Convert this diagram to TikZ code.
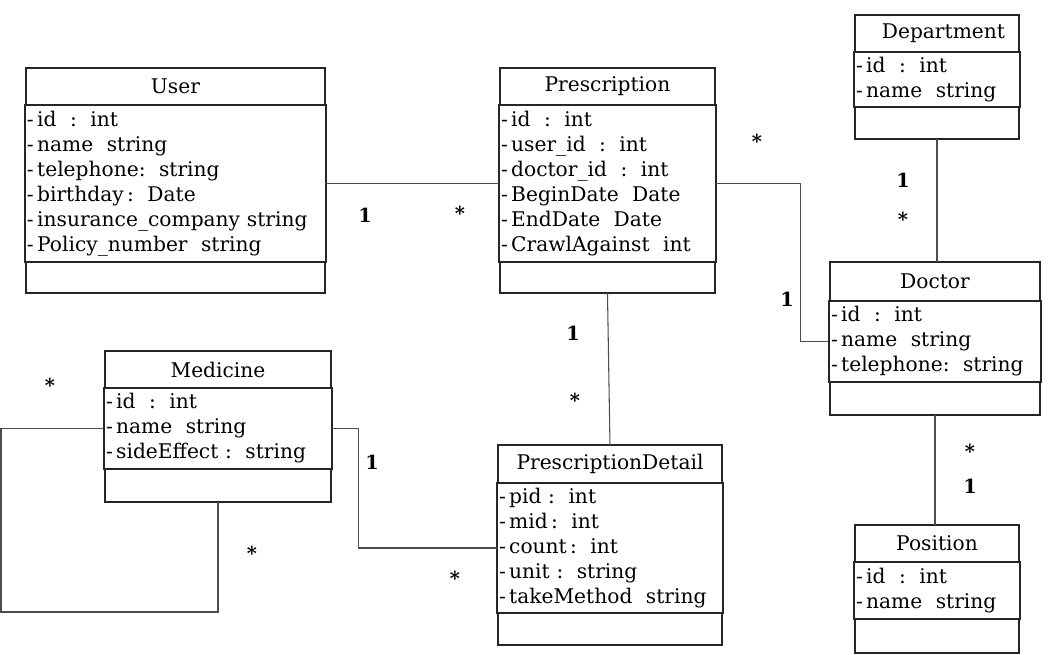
\documentclass[tikz,border=0pt]{standalone}
\usepackage{fontspec}
\setmainfont{DejaVu Serif}
\usepackage{tikz}
\usetikzlibrary{positioning}

\begin{document}
\begin{tikzpicture}[x=0.02cm, y=-0.02cm,
  every node/.style={font=\fontsize{11.5}{14.2}\selectfont},
  box/.style={draw=black!85, line width=1pt, rectangle, inner xsep=1pt, inner ysep=0pt, outer sep=0pt},
  title/.style={box, align=center},
  attr/.style={box, align=left},
  ops/.style={box},
  link/.style={draw=black!70, line width=0.6pt},
  mult/.style={font=\fontsize{11}{12}\selectfont\bfseries, inner sep=0pt}]
\useasboundingbox (0,0) rectangle (1051,655);

% classes
\node[title, anchor=north west, minimum width=5.98cm, minimum height=0.74cm](user) at (26,68){User};
\node[attr, below=0pt of user, text width=5.94cm, minimum height=3.14cm](userattr){-\,id\ \ :\ \ int\\-\,name\ \ string\\-\,telephone:\ \ string\\-\,birthday\,:\ \ Date\\-\,insurance\_company string\\-\,Policy\_number\ \ string};
\node[ops, below=0pt of userattr, minimum width=5.98cm, minimum height=0.62cm](userops){};

\node[title, anchor=north west, minimum width=4.30cm, minimum height=0.74cm](presc) at (500,68){Prescription};
\node[attr, below=0pt of presc, text width=4.26cm, minimum height=3.14cm](prescattr){-\,id\ \ :\ \ int\\-\,user\_id\ \ :\ \ int\\-\,doctor\_id\ \ :\ \ int\\-\,BeginDate\ \ Date\\-\,EndDate\ \ Date\\-\,CrawlAgainst\ \ int};
\node[ops, below=0pt of prescattr, minimum width=4.30cm, minimum height=0.62cm](prescops){};

\node[title, anchor=north west, minimum width=3.28cm, minimum height=0.74cm](dept) at (855,15){\ \ Department};
\node[attr, below=0pt of dept, text width=3.24cm, minimum height=1.10cm](deptattr){-\,id\ \ :\ \ int\\-\,name\ \ string};
\node[ops, below=0pt of deptattr, minimum width=3.28cm, minimum height=0.64cm](deptops){};

\node[title, anchor=north west, minimum width=4.20cm, minimum height=0.78cm](doctor) at (830,262){Doctor};
\node[attr, below=0pt of doctor, text width=4.16cm, minimum height=1.62cm](doctorattr){-\,id\ \ :\ \ int\\-\,name\ \ string\\-\,telephone:\ \ string};
\node[ops, below=0pt of doctorattr, minimum width=4.20cm, minimum height=0.66cm](doctorops){};

\node[title, anchor=north west, minimum width=4.52cm, minimum height=0.74cm](med) at (105,351){Medicine};
\node[attr, below=0pt of med, text width=4.48cm, minimum height=1.62cm](medattr){-\,id\ \ :\ \ int\\-\,name\ \ string\\-\,sideEffect\ :\ \ string};
\node[ops, below=0pt of medattr, minimum width=4.52cm, minimum height=0.66cm](medops){};

\node[title, anchor=north west, minimum width=4.48cm, minimum height=0.76cm](detail) at (498,445){PrescriptionDetail};
\node[attr, below=0pt of detail, text width=4.44cm, minimum height=2.60cm](detailattr){-\,pid\ :\ \ int\\-\,mid\,:\ \ int\\-\,count\,:\ \ int\\-\,unit\ :\ \ string\\-\,takeMethod\ \ string};
\node[ops, below=0pt of detailattr, minimum width=4.48cm, minimum height=0.64cm](detailops){};

\node[title, anchor=north west, minimum width=3.28cm, minimum height=0.74cm](pos) at (855,525){Position};
\node[attr, below=0pt of pos, text width=3.24cm, minimum height=1.14cm](posattr){-\,id\ \ :\ \ int\\-\,name\ \ string};
\node[ops, below=0pt of posattr, minimum width=3.28cm, minimum height=0.68cm](posops){};

% associations
\draw[link] (userattr.east) -- (prescattr.west);
\draw[link] (prescattr.east) -- ++(85,0) |- (doctorattr.west);
\draw[link] (deptops.south) -- (deptops.south |- doctor.north);
\draw[link] (prescops.south) -- (detail.north);
\draw[link] (medattr.east) -- ++(27,0) |- (detailattr.west);
\draw[link] (doctorops.south) -- (doctorops.south |- pos.north);
\coordinate (loop) at (1,612);
\draw[link] (medattr.west) -| (loop) -| (medops.south);

% multiplicities
\node[mult](m1) at (365,215){1};
\node[mult](m2) at (460,213){*};
\node[mult](m3) at (757,141){*};
\node[mult](m4) at (787,299){1};
\node[mult](m5) at (903,180){1};
\node[mult](m6) at (903,219){*};
\node[mult](m7) at (573,333){1};
\node[mult](m8) at (575,400){*};
\node[mult](m9) at (372,462){1};
\node[mult](m10) at (455,578){*};
\node[mult](m11) at (50,385){*};
\node[mult](m12) at (252,553){*};
\node[mult](m13) at (970,451){*};
\node[mult](m14) at (970,486){1};
\end{tikzpicture}
\end{document}
